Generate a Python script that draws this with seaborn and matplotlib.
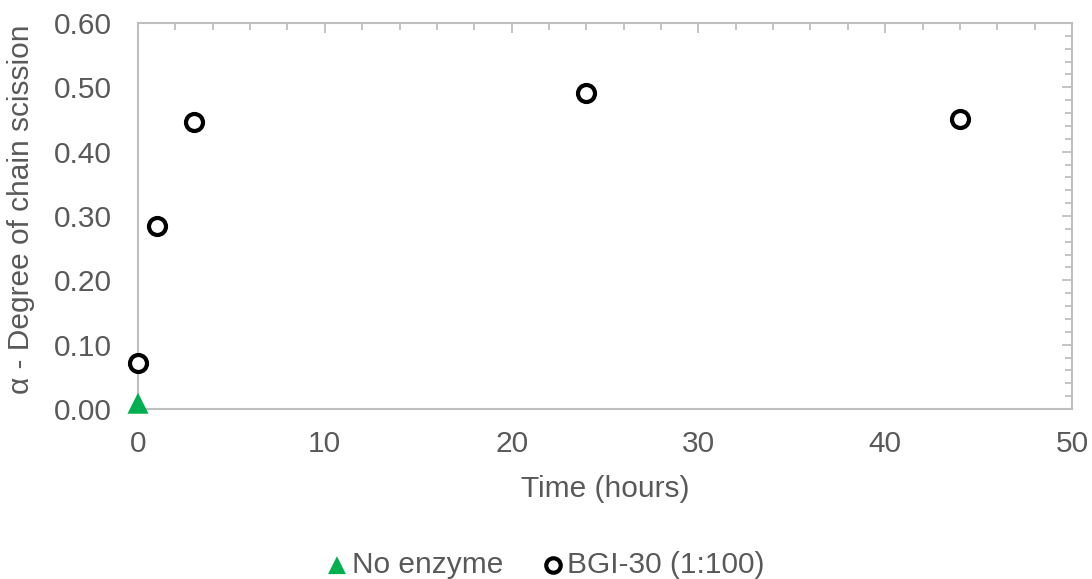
import matplotlib
matplotlib.use("Agg")
import matplotlib.pyplot as plt
from matplotlib.ticker import MultipleLocator
import seaborn as sns
import pandas as pd

# Degree of chain scission over time
no_enzyme_time = [0]
no_enzyme_alpha = [0.009]
bgi_time = [0, 1, 3, 24, 44]
bgi_alpha = [0.071, 0.285, 0.446, 0.491, 0.451]
x_ticks = [0, 10, 20, 30, 40, 50]
y_ticks = [0.0, 0.1, 0.2, 0.3, 0.4, 0.5, 0.6]

sns.set_theme(style="white")
plt.rcParams["font.family"] = ["Liberation Sans", "DejaVu Sans"]

grey = "#595959"
frame = "#BFBFBF"
fs = 21.5

W, H = 1092, 579
fig = plt.figure(figsize=(W / 100, H / 100), dpi=100)
ax = fig.add_axes([138 / W, 1 - 409 / H, (1072 - 138) / W, (409 - 23) / H])

df_ctrl = pd.DataFrame({"t": no_enzyme_time, "a": no_enzyme_alpha})
df_bgi = pd.DataFrame({"t": bgi_time, "a": bgi_alpha})

sns.scatterplot(data=df_ctrl, x="t", y="a", ax=ax, marker="^", s=230,
                color="#00B050", edgecolor="none", label="No enzyme",
                zorder=3, clip_on=False)
sns.scatterplot(data=df_bgi, x="t", y="a", ax=ax, marker="o", s=150,
                facecolor="white", edgecolor="black", linewidth=3,
                label="BGI-30 (1:100)", zorder=4, clip_on=False)

ax.set_xlim(0, 50)
ax.set_ylim(0, 0.6)
ax.set_xticks(x_ticks)
ax.set_yticks(y_ticks)
ax.set_yticklabels([f"{v:.2f}" for v in y_ticks])
ax.xaxis.set_minor_locator(MultipleLocator(2))
ax.yaxis.set_minor_locator(MultipleLocator(0.02))

for sp in ax.spines.values():
    sp.set_color(frame)
    sp.set_linewidth(1.5)

ax.tick_params(which="both", direction="in", top=True, right=True,
               color=frame, width=1.3, labelcolor=grey, labelsize=fs)
ax.tick_params(which="major", length=7)
ax.tick_params(which="minor", length=5)
ax.tick_params(axis="x", which="major", pad=15)
ax.tick_params(axis="y", which="major", pad=19)

ax.set_xlabel("")
ax.set_ylabel("")
fig.text(605 / W, 1 - 489 / H, "Time (hours)", fontsize=fs, color=grey,
         ha="center", va="center")
fig.text(21 / W, 1 - 209 / H, "α - Degree of chain scission", fontsize=fs,
         color=grey, ha="center", va="center", rotation=90)

ax.legend(loc="center", bbox_to_anchor=(545 / W, 1 - 565 / H),
          bbox_transform=fig.transFigure, ncol=2, frameon=False,
          fontsize=fs, labelcolor=grey, handlelength=0.8, handletextpad=0.1,
          columnspacing=1.25, markerscale=0.85, borderpad=0, borderaxespad=0)

fig.savefig("out.png", dpi=100)
